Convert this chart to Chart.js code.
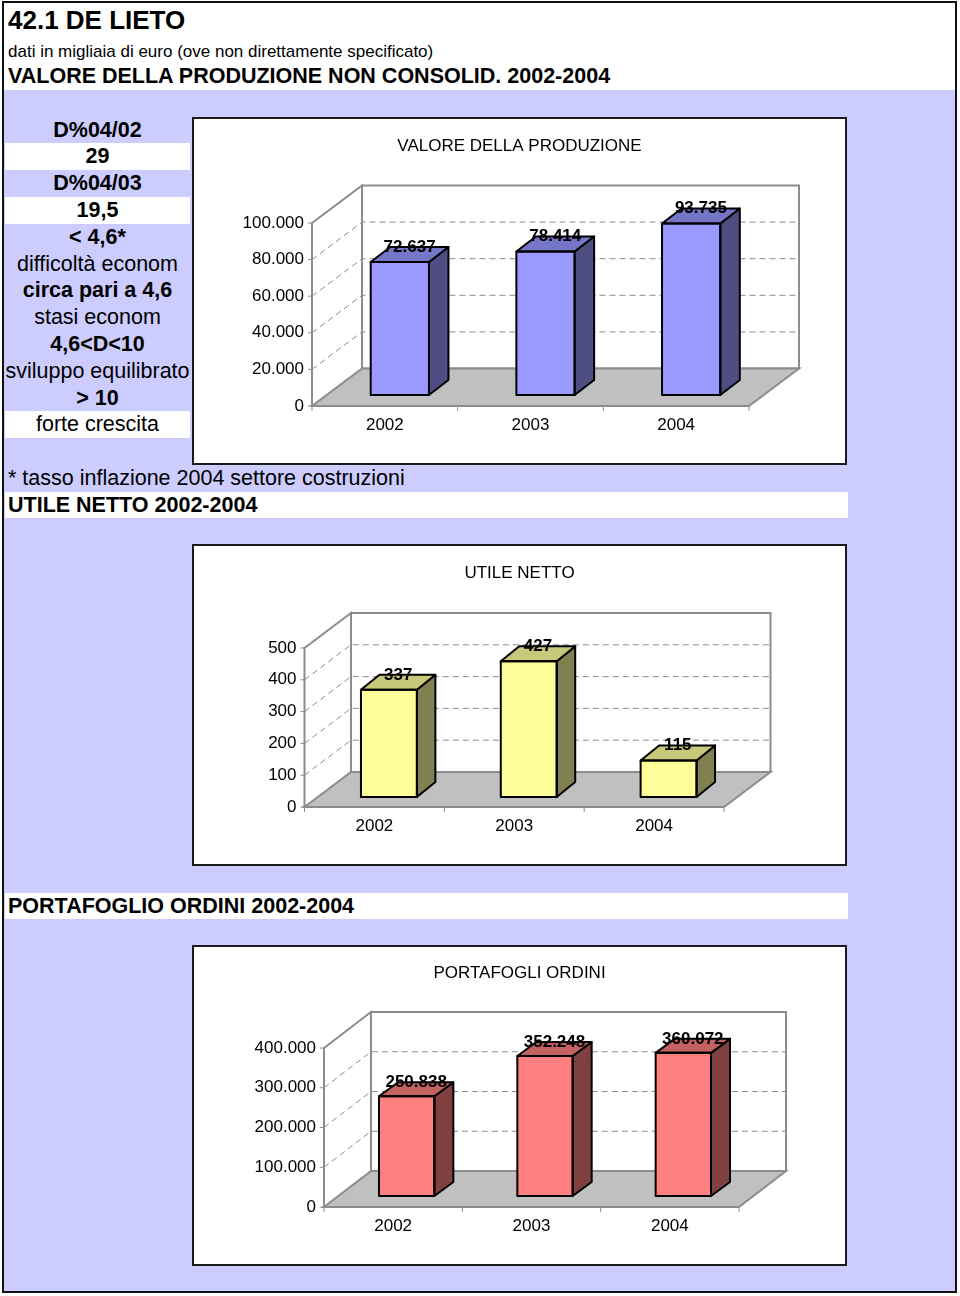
<!DOCTYPE html>
<html>
<head>
<meta charset="utf-8">
<script src="https://cdn.jsdelivr.net/npm/chart.js@4.4.1/dist/chart.umd.min.js"></script>
<style>
  html, body { margin: 0; padding: 0; background: #fff; }
  body { width: 960px; height: 1296px; position: relative; overflow: hidden;
         font-family: "Liberation Sans", Arial, Helvetica, sans-serif; color: #000; }
  .abs { position: absolute; white-space: nowrap; }
  .frame { position: absolute; left: 2px; top: 1px; width: 955px; height: 1292px;
           box-sizing: border-box; border: 2px solid #111; }
  .lav { position: absolute; left: 4px; top: 90px; width: 951px; height: 1201px; background: #ccccff; }
  .band { position: absolute; background: #fff; }
  .t { position: absolute; white-space: nowrap; }
  .row { position: absolute; left: 5px; width: 185px; text-align: center; font-size: 21.5px; white-space: nowrap; }
  .box { position: absolute; box-sizing: border-box; border: 2px solid #1a1a1a; pointer-events: none; }
  canvas { position: absolute; background: #fff; }
</style>
</head>
<body>
<div class="lav"></div>
<div class="frame"></div>

<div class="t" style="left:8px; top:4px; height:32px; line-height:32px; font-size:26px; font-weight:bold;">42.1 DE LIETO</div>
<div class="t" style="left:8px; top:41px; height:22px; line-height:22px; font-size:17px;">dati in migliaia di euro (ove non direttamente specificato)</div>
<div class="t" style="left:8px; top:63px; height:26px; line-height:26px; font-size:21.5px; font-weight:bold;">VALORE DELLA PRODUZIONE NON CONSOLID. 2002-2004</div>

<div id="table"></div>

<div class="t" style="left:8px; top:465px; height:26px; line-height:26px; font-size:21.5px;">* tasso inflazione 2004 settore costruzioni</div>
<div class="band" style="left:5px; top:492px; width:843px; height:26px;"></div>
<div class="t" style="left:8px; top:492px; height:26px; line-height:26px; font-size:21.5px; font-weight:bold;">UTILE NETTO 2002-2004</div>
<div class="band" style="left:5px; top:893px; width:843px; height:26px;"></div>
<div class="t" style="left:8px; top:893px; height:26px; line-height:26px; font-size:21.5px; font-weight:bold;">PORTAFOGLIO ORDINI 2002-2004</div>

<canvas id="c1" width="655" height="348" style="left:192px; top:117px;"></canvas>
<div class="box" style="left:192px; top:117px; width:655px; height:348px;"></div>
<canvas id="c2" width="655" height="322" style="left:192px; top:544px;"></canvas>
<div class="box" style="left:192px; top:544px; width:655px; height:322px;"></div>
<canvas id="c3" width="655" height="321" style="left:192px; top:945px;"></canvas>
<div class="box" style="left:192px; top:945px; width:655px; height:321px;"></div>

<script>
// ---------------- DATA ----------------
const years = ['2002', '2003', '2004'];
const valoreProduzione = [72637, 78414, 93735];
const utileNetto = [337, 427, 115];
const portafoglioOrdini = [250838, 352248, 360072];

const tableRows = ['D%04/02', '29', 'D%04/03', '19,5', '< 4,6*', 'difficoltà econom',
  'circa pari a 4,6', 'stasi econom', '4,6<D<10', 'sviluppo equilibrato', '> 10', 'forte crescita'];
const tableBold = [true, true, true, true, true, false, true, false, true, false, true, false];
const tableWhite = [false, true, false, true, false, false, false, false, false, false, false, true];

// ---------------- TABLE ----------------
(function () {
  const host = document.getElementById('table');
  const y0 = 130, step = 26.8, h = 26.8;
  tableRows.forEach((txt, i) => {
    const cy = y0 + i * step;
    if (tableWhite[i]) {
      const b = document.createElement('div');
      b.className = 'band';
      b.style.cssText = `left:5px; top:${cy - h / 2}px; width:185px; height:${h}px;`;
      host.appendChild(b);
    }
    const d = document.createElement('div');
    d.className = 'row';
    d.style.top = (cy - h / 2) + 'px';
    d.style.height = h + 'px';
    d.style.lineHeight = h + 'px';
    d.style.fontWeight = tableBold[i] ? 'bold' : 'normal';
    d.textContent = txt;
    host.appendChild(d);
  });
})();

// ---------------- CHARTS ----------------
const fmt = v => String(v).replace(/\B(?=(\d{3})+(?!\d))/g, '.');
const FONT = '"Liberation Sans", Arial, sans-serif';

const threeD = {
  id: 'threeD',
  beforeDatasetsDraw(chart) {
    const o = chart.options.plugins.threeD;
    const { ctx, chartArea: a } = chart;
    const y = chart.scales.y, x = chart.scales.x;
    const [dx, dy] = o.depth;
    ctx.save();
    ctx.lineJoin = 'miter';
    // back wall
    ctx.fillStyle = '#ffffff';
    ctx.strokeStyle = '#8c8c8c';
    ctx.lineWidth = 2;
    ctx.beginPath();
    ctx.rect(a.left + dx, a.top + dy, a.right - a.left, a.bottom - a.top);
    ctx.fill(); ctx.stroke();
    // left wall
    ctx.beginPath();
    ctx.moveTo(a.left, a.bottom); ctx.lineTo(a.left, a.top);
    ctx.lineTo(a.left + dx, a.top + dy); ctx.lineTo(a.left + dx, a.bottom + dy);
    ctx.stroke();
    // floor
    ctx.fillStyle = '#c0c0c0';
    ctx.beginPath();
    ctx.moveTo(a.left, a.bottom); ctx.lineTo(a.right, a.bottom);
    ctx.lineTo(a.right + dx, a.bottom + dy); ctx.lineTo(a.left + dx, a.bottom + dy);
    ctx.closePath(); ctx.fill(); ctx.stroke();
    // gridlines (dashed)
    ctx.strokeStyle = '#8c8c8c';
    ctx.lineWidth = 1;
    ctx.setLineDash([6, 4]);
    y.ticks.forEach(t => {
      if (t.value <= y.min || t.value >= y.max) return;
      const py = y.getPixelForValue(t.value);
      ctx.beginPath();
      ctx.moveTo(a.left, py); ctx.lineTo(a.left + dx, py + dy);
      ctx.lineTo(a.right + dx, py + dy);
      ctx.stroke();
    });
    ctx.setLineDash([]);
    // tick marks
    ctx.lineWidth = 1;
    ctx.strokeStyle = '#8c8c8c';
    y.ticks.forEach(t => {
      const py = y.getPixelForValue(t.value);
      ctx.beginPath(); ctx.moveTo(a.left - 4, py); ctx.lineTo(a.left, py); ctx.stroke();
    });
    const n = chart.data.labels.length;
    for (let i = 0; i <= n; i++) {
      const px = a.left + (a.right - a.left) * i / n;
      ctx.beginPath(); ctx.moveTo(px, a.bottom); ctx.lineTo(px, a.bottom + 5); ctx.stroke();
    }
    ctx.restore();
    // shift the bar plane into the middle of the depth
    ctx.save();
    ctx.translate(o.barOffset[0], o.barOffset[1]);
  },
  afterDatasetsDraw(chart) {
    const o = chart.options.plugins.threeD;
    const { ctx } = chart;
    const [bdx, bdy] = o.barDepth;
    const meta = chart.getDatasetMeta(0);
    const vals = chart.data.datasets[0].data;
    ctx.lineWidth = 2;
    ctx.strokeStyle = '#000';
    ctx.lineJoin = 'round';
    meta.data.forEach((bar, i) => {
      const p = bar.getProps(['x', 'y', 'base', 'width'], true);
      const l = p.x - p.width / 2, r = p.x + p.width / 2, t = Math.min(p.y, p.base), b = Math.max(p.y, p.base);
      // side
      ctx.fillStyle = o.side;
      ctx.beginPath();
      ctx.moveTo(r, t); ctx.lineTo(r + bdx, t + bdy); ctx.lineTo(r + bdx, b + bdy); ctx.lineTo(r, b);
      ctx.closePath(); ctx.fill(); ctx.stroke();
      // top
      ctx.fillStyle = o.top;
      ctx.beginPath();
      ctx.moveTo(l, t); ctx.lineTo(l + bdx, t + bdy); ctx.lineTo(r + bdx, t + bdy); ctx.lineTo(r, t);
      ctx.closePath(); ctx.fill(); ctx.stroke();
      // front outline
      ctx.strokeRect(l, t, r - l, b - t);
    });
    // value labels
    ctx.fillStyle = '#000';
    ctx.font = 'bold 17px ' + FONT;
    ctx.textAlign = 'center';
    ctx.textBaseline = 'middle';
    meta.data.forEach((bar, i) => {
      const p = bar.getProps(['x', 'y'], true);
      ctx.fillText(fmt(vals[i]), p.x + bdx / 2, p.y + bdy);
    });
    ctx.restore();
  }
};

function makeChart(id, title, values, st) {
  const canvas = document.getElementById(id);
  const H = canvas.height;
  return new Chart(canvas, {
    type: 'bar',
    data: {
      labels: years,
      datasets: [{
        data: values,
        backgroundColor: st.front,
        borderColor: '#000',
        borderWidth: 0,
        barPercentage: 0.4,
        categoryPercentage: 1,
        clip: false
      }]
    },
    options: {
      responsive: false,
      animation: false,
      events: [],
      layout: { padding: 0 },
      plugins: {
        legend: { display: false },
        tooltip: { enabled: false },
        title: {
          display: true, text: title, color: '#000',
          font: { family: FONT, size: 17, weight: 'normal', lineHeight: 1.2 },
          padding: { top: st.titleTop, bottom: st.areaTop - st.titleTop - 20.4 }
        },
        threeD: st
      },
      scales: {
        x: {
          grid: { display: false, drawTicks: false },
          border: { display: false },
          ticks: { color: '#000', font: { family: FONT, size: 17 }, padding: 9, maxRotation: 0 },
          afterFit(s) { s.height = H - st.areaBottom; }
        },
        y: {
          min: 0, max: st.max,
          grid: { display: false, drawTicks: false },
          border: { display: false },
          ticks: { stepSize: st.step, color: '#000', font: { family: FONT, size: 17 }, padding: 8,
                   callback: v => fmt(v) },
          afterFit(s) { s.width = st.areaLeft; }
        },
        y2: {
          position: 'right', display: true,
          grid: { display: false, drawTicks: false },
          border: { display: false },
          ticks: { display: false },
          afterFit(s) { s.width = st.rightGap; }
        }
      }
    },
    plugins: [threeD]
  });
}

makeChart('c1', 'VALORE DELLA PRODUZIONE', valoreProduzione, {
  titleTop: 19, areaTop: 106, areaBottom: 289, areaLeft: 120, rightGap: 98,
  max: 100000, step: 20000,
  depth: [50, -37.5], barOffset: [15, -11], barDepth: [19.5, -15],
  front: '#9999ff', top: '#7676c8', side: '#4e4e82'
});
makeChart('c2', 'UTILE NETTO', utileNetto, {
  titleTop: 19, areaTop: 104, areaBottom: 263, areaLeft: 112.5, rightGap: 123,
  max: 500, step: 100,
  depth: [46.5, -35], barOffset: [14.5, -10], barDepth: [18.5, -15],
  front: '#ffff99', top: '#c8c87a', side: '#808050'
});
makeChart('c3', 'PORTAFOGLI ORDINI', portafoglioOrdini, {
  titleTop: 18, areaTop: 103, areaBottom: 262, areaLeft: 132, rightGap: 108,
  max: 400000, step: 100000,
  depth: [47, -36], barOffset: [13.5, -11], barDepth: [19, -14],
  front: '#ff8080', top: '#c46262', side: '#804040'
});
</script>
</body>
</html>
